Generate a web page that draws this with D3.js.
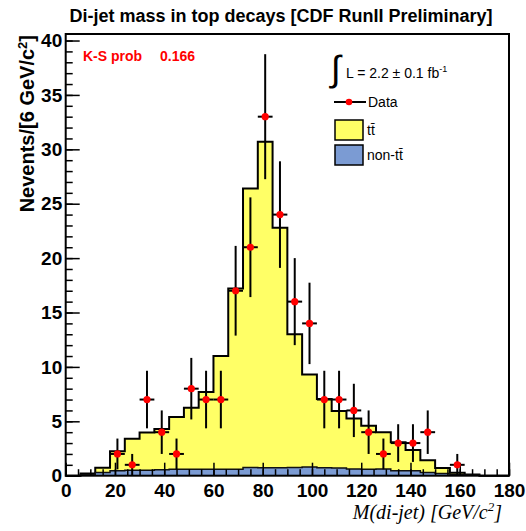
<!DOCTYPE html>
<html>
<head>
<meta charset="utf-8">
<script src="https://cdn.jsdelivr.net/npm/d3@7"></script>
<style>
  html, body { margin: 0; padding: 0; background: #fff; }
  svg { display: block; font-family: "Liberation Sans", Arial, sans-serif; }
</style>
</head>
<body>
<svg id="chart" width="526" height="531"></svg>
<script>
// ---------- data ----------
const binEdges = [0,6,12,18,24,30,36,42,48,54,60,66,72,78,84,90,96,102,108,114,120,126,132,138,144,150,156,162,168,174,180];
const ttbar = [0,0.12,0.44,1.79,2.9,3.46,3.75,4.8,5.65,7.1,10.4,16.6,25.65,29.98,22.08,12.25,8.5,6.33,5.25,4.63,4.0,3.38,2.62,1.91,1.11,0.5,0.18,0.05,0,0];
const nonTtbar = [0,0.08,0.3,0.45,0.5,0.5,0.55,0.6,0.6,0.6,0.6,0.6,0.75,0.72,0.72,0.75,0.8,0.72,0.7,0.62,0.6,0.62,0.45,0.45,0.3,0.2,0.1,0.05,0,0];
const dataCounts = [0,0,0,2,1,7,4,2,8,7,7,17,21,33,24,16,14,7,7,6,4,2,3,3,4,0,1,0,0,0];
const xMajorTicks = [0,20,40,60,80,100,120,140,160,180];
const yMajorTicks = [0,5,10,15,20,25,30,35,40];
const titleText = "Di-jet mass in top decays [CDF RunII Preliminary]";
const ksLabel = "K-S prob";
const ksValue = "0.166";

// ---------- layout ----------
const svg = d3.select("#chart");
const X0 = 65.7, X1 = 509, Y0 = 475.7, Y1 = 34;
const x = d3.scaleLinear().domain([0,180]).range([X0, X1]);
const y = d3.scaleLinear().domain([0,40.6]).range([Y0, Y1]);

const YELLOW = "#ffff66", BLUE = "#7b9bd3";

const nb = ttbar.length;
const stackTotal = ttbar.map((v,i) => v + nonTtbar[i]);
function stepPts(vals){
  const pts = vals.map((v,i) => [binEdges[i], v]);
  pts.push([binEdges[nb], vals[nb-1]]);
  return pts;
}
const area = d3.area().curve(d3.curveStepAfter).x(d => x(d[0])).y0(y(0)).y1(d => y(d[1]));
const line = d3.line().curve(d3.curveStepAfter).x(d => x(d[0])).y(d => y(d[1]));

// stacked ttbar (total)
svg.append("path").attr("d", area(stepPts(stackTotal))).attr("fill", YELLOW);
svg.append("path").attr("d", line(stepPts(stackTotal))).attr("fill","none").attr("stroke","#000").attr("stroke-width",2);
// non-ttbar
svg.append("path").attr("d", area(stepPts(nonTtbar))).attr("fill", BLUE);
svg.append("path").attr("d", line(stepPts(nonTtbar))).attr("fill","none").attr("stroke","#111").attr("stroke-width",1.5);

// ---------- axes (ticks inward) ----------
const xMinor = d3.range(0, 181, 5);
const yMinor = d3.range(0, 41, 1);

svg.append("g").attr("transform", `translate(0,${Y0})`)
  .call(d3.axisBottom(x).tickValues(xMinor).tickSize(-6.5).tickFormat(""))
  .call(g => g.select(".domain").remove())
  .call(g => g.selectAll("line").attr("stroke","#000").attr("stroke-width",1.5));
svg.append("g").attr("transform", `translate(0,${Y0})`)
  .call(d3.axisBottom(x).tickValues(xMajorTicks).tickSize(-13).tickPadding(7.5).tickFormat(d3.format("d")))
  .call(g => g.select(".domain").remove())
  .call(g => g.selectAll("line").attr("stroke","#000").attr("stroke-width",1.5))
  .call(g => g.selectAll("text").attr("font-size",19).attr("font-weight","bold")
     .attr("font-family","'Liberation Sans', Arial, sans-serif").attr("fill","#000"));

svg.append("g").attr("transform", `translate(${X0},0)`)
  .call(d3.axisLeft(y).tickValues(yMinor).tickSize(-7).tickFormat(""))
  .call(g => g.select(".domain").remove())
  .call(g => g.selectAll("line").attr("stroke","#000").attr("stroke-width",1.5));
svg.append("g").attr("transform", `translate(${X0},0)`)
  .call(d3.axisLeft(y).tickValues(yMajorTicks).tickSize(-14).tickPadding(3.5).tickFormat(d3.format("d")))
  .call(g => g.select(".domain").remove())
  .call(g => g.selectAll("line").attr("stroke","#000").attr("stroke-width",1.5))
  .call(g => g.selectAll("text").attr("font-size",19).attr("font-weight","bold")
     .attr("font-family","'Liberation Sans', Arial, sans-serif").attr("fill","#000"));

// ---------- data points ----------
const centers = ttbar.map((_,i) => (binEdges[i] + binEdges[i+1]) / 2);
const pts = dataCounts.map((n,i) => ({n, c: centers[i], lo: binEdges[i], hi: binEdges[i+1]})).filter(d => d.n > 0);
const gd = svg.append("g");
gd.selectAll("line.v").data(pts).join("line").attr("class","v")
  .attr("x1", d => x(d.c)).attr("x2", d => x(d.c))
  .attr("y1", d => y(d.n - Math.sqrt(d.n))).attr("y2", d => y(d.n + Math.sqrt(d.n)))
  .attr("stroke","#000").attr("stroke-width",2);
gd.selectAll("line.h").data(pts).join("line").attr("class","h")
  .attr("x1", d => x(d.lo)).attr("x2", d => x(d.hi))
  .attr("y1", d => y(d.n)).attr("y2", d => y(d.n))
  .attr("stroke","#000").attr("stroke-width",2);
gd.selectAll("circle").data(pts).join("circle")
  .attr("cx", d => x(d.c)).attr("cy", d => y(d.n)).attr("r", 3.6).attr("fill","#ff0000");

// ---------- frame ----------
svg.append("rect").attr("x", X0).attr("y", Y1).attr("width", X1 - X0).attr("height", Y0 - Y1)
  .attr("fill","none").attr("stroke","#000").attr("stroke-width",2);

// ---------- texts ----------
svg.append("text").attr("x", 281).attr("y", 22).attr("text-anchor","middle")
  .attr("font-size",18).attr("font-weight","bold").text(titleText);

const yt = svg.append("text").attr("transform","translate(34,35) rotate(-90)")
  .attr("text-anchor","end").attr("font-size",20).attr("font-weight","bold");
yt.append("tspan").text("Nevents/[6 GeV/c");
yt.append("tspan").attr("dy",-7).attr("font-size",13).text("2");
yt.append("tspan").attr("dy",7).text("]");

const xt = svg.append("text").attr("x", 502).attr("y", 519).attr("text-anchor","end")
  .attr("font-family","'Liberation Serif', 'Times New Roman', serif").attr("font-style","italic").attr("font-size",20);
xt.append("tspan").text("M(di-jet) [GeV/c");
xt.append("tspan").attr("dy",-8).attr("font-size",13).text("2");
xt.append("tspan").attr("dy",8).text("]");

svg.append("text").attr("x",83).attr("y",61).attr("fill","#ff0000").attr("font-size",14).attr("font-weight","bold").text(ksLabel);
svg.append("text").attr("x",160).attr("y",61).attr("fill","#ff0000").attr("font-size",14).attr("font-weight","bold").text(ksValue);

// ---------- legend ----------
const lg = svg.append("g");
lg.append("text").attr("x",331).attr("y",81).attr("font-size",36).attr("font-family","'DejaVu Sans', sans-serif").attr("font-weight","lighter").text("\u222B");
const lt = lg.append("text").attr("x",346).attr("y",78).attr("font-size",14);
lt.append("tspan").text("L = 2.2 \u00B1 0.1 fb");
lt.append("tspan").attr("dy",-6).attr("font-size",9).text("-1");

lg.append("line").attr("x1",334).attr("x2",366).attr("y1",102).attr("y2",102).attr("stroke","#000").attr("stroke-width",2);
lg.append("circle").attr("cx",349).attr("cy",102).attr("r",3.3).attr("fill","#ff0000");
lg.append("text").attr("x",368).attr("y",107).attr("font-size",14).text("Data");

lg.append("rect").attr("x",335).attr("y",120).attr("width",28).attr("height",20).attr("fill",YELLOW).attr("stroke","#000").attr("stroke-width",1.5);
lg.append("text").attr("x",367).attr("y",135).attr("font-size",14).text("tt\u0304");
lg.append("rect").attr("x",335).attr("y",145).attr("width",28).attr("height",20).attr("fill",BLUE).attr("stroke","#000").attr("stroke-width",1.5);
lg.append("text").attr("x",367).attr("y",160).attr("font-size",14).text("non-tt\u0304");
</script>
</body>
</html>
